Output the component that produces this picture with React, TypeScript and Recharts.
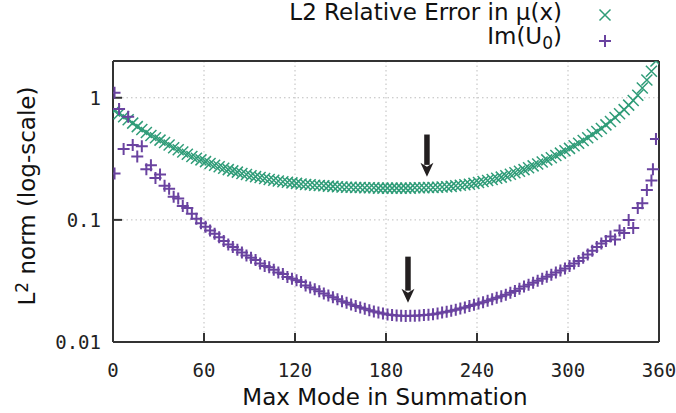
import React from "react"
import { ScatterChart, Scatter, XAxis, YAxis, CartesianGrid, ReferenceLine } from "recharts"

// mode numbers shared by both series
const modes = [
  1, 4, 7, 10, 13, 16, 19, 22, 25, 28, 31, 34, 37, 40, 43, 46, 49, 52, 55, 58,
  61, 64, 67, 70, 73, 76, 79, 82, 85, 88, 91, 94, 97, 100, 103, 106, 109, 112, 115, 118,
  121, 124, 127, 130, 133, 136, 139, 142, 145, 148, 151, 154, 157, 160, 163, 166, 169, 172, 175, 178,
  181, 184, 187, 190, 193, 196, 199, 202, 205, 208, 211, 214, 217, 220, 223, 226, 229, 232, 235, 238,
  241, 244, 247, 250, 253, 256, 259, 262, 265, 268, 271, 274, 277, 280, 283, 286, 289, 292, 295, 298,
  301, 304, 307, 310, 313, 316, 319, 322, 325, 328, 331, 334, 337, 340, 343, 346, 349, 352, 355, 358,
]

// L2 relative error in mu(x)
const muError = [
  0.78, 0.74, 0.7, 0.66, 0.62, 0.58, 0.55, 0.52, 0.49, 0.47, 0.45, 0.43, 0.41, 0.39, 0.375, 0.36, 0.345, 0.33, 0.32, 0.31,
  0.3, 0.29, 0.28, 0.272, 0.265, 0.258, 0.252, 0.246, 0.24, 0.235, 0.23, 0.226, 0.222, 0.218, 0.214, 0.211, 0.208, 0.205, 0.203, 0.201,
  0.199, 0.197, 0.195, 0.194, 0.192, 0.191, 0.19, 0.189, 0.188, 0.187, 0.186, 0.185, 0.185, 0.184, 0.184, 0.183, 0.183, 0.183, 0.182, 0.182,
  0.182, 0.182, 0.182, 0.182, 0.182, 0.182, 0.183, 0.183, 0.183, 0.184, 0.184, 0.185, 0.186, 0.187, 0.188, 0.19, 0.192, 0.194, 0.196, 0.199,
  0.202, 0.206, 0.21, 0.214, 0.219, 0.224, 0.23, 0.236, 0.243, 0.25, 0.258, 0.267, 0.277, 0.287, 0.298, 0.31, 0.323, 0.337, 0.352, 0.368,
  0.385, 0.404, 0.424, 0.446, 0.47, 0.5, 0.53, 0.56, 0.6, 0.64, 0.69, 0.74, 0.8, 0.87, 0.95, 1.05, 1.2, 1.4, 1.65, 2.0,
]

// Im(U_0)
const imU0 = [
  1.1, 0.81, 0.38, 0.7, 0.41, 0.33, 0.4, 0.26, 0.28, 0.22, 0.235, 0.19, 0.18, 0.155, 0.15, 0.13, 0.125, 0.112, 0.102, 0.094,
  0.088, 0.082, 0.077, 0.072, 0.067, 0.063, 0.06, 0.057, 0.054, 0.051, 0.049, 0.047, 0.044, 0.042, 0.041, 0.039, 0.037, 0.036, 0.034, 0.033,
  0.032, 0.031, 0.029, 0.028, 0.027, 0.026, 0.025, 0.024, 0.0232, 0.0224, 0.0216, 0.021, 0.0203, 0.0197, 0.0192, 0.0187, 0.0182, 0.0178, 0.0174, 0.0171,
  0.0168, 0.0166, 0.0165, 0.0164, 0.0163, 0.0164, 0.0164, 0.0165, 0.0166, 0.0167, 0.0169, 0.0171, 0.0174, 0.0177, 0.018, 0.0184, 0.0188, 0.0192, 0.0197, 0.0202,
  0.0207, 0.0212, 0.0218, 0.0224, 0.023, 0.0237, 0.0244, 0.0253, 0.0262, 0.0273, 0.0285, 0.0295, 0.0306, 0.0318, 0.033, 0.0343, 0.0356, 0.037, 0.0385, 0.04,
  0.042, 0.044, 0.046, 0.049, 0.052, 0.056, 0.06, 0.064, 0.067, 0.073, 0.069, 0.082, 0.078, 0.1, 0.086, 0.125, 0.137, 0.176, 0.21, 0.46,
]
const imU0ExtraModes = [1, 356]
const imU0Extra = [0.24, 0.26]

const xTicks = [0, 60, 120, 180, 240, 300, 360]
const yMajor = [0.01, 0.1, 1]
const yMinor = [0.02, 0.03, 0.04, 0.05, 0.06, 0.07, 0.08, 0.09, 0.2, 0.3, 0.4, 0.5, 0.6, 0.7, 0.8, 0.9, 2]

// arrows marking the minima: mode, tail value, tip value
const arrowModes = [207, 194.5]
const arrowTails = [0.5, 0.05]
const arrowTips = [0.225, 0.021]

const GREEN = "#2f9c78"
const PURPLE = "#6a43a0"
const AXIS = "#333"

const muData = modes.map((m, i) => ({ m, v: muError[i] }))
const imData = [
  ...imU0ExtraModes.map((m, i) => ({ m, v: imU0Extra[i] })),
  ...modes.map((m, i) => ({ m, v: imU0[i] })),
]

const Cross = (props: any) => {
  const { cx, cy } = props
  const r = 5.5
  return (
    <path
      d={`M${cx - r},${cy - r}L${cx + r},${cy + r}M${cx - r},${cy + r}L${cx + r},${cy - r}`}
      stroke={GREEN}
      strokeWidth={1.5}
      fill="none"
    />
  )
}

const Plus = (props: any) => {
  const { cx, cy } = props
  const r = 6
  return (
    <path
      d={`M${cx - r},${cy}L${cx + r},${cy}M${cx},${cy - r}L${cx},${cy + r}`}
      stroke={PURPLE}
      strokeWidth={2}
      fill="none"
    />
  )
}

const Arrow = (props: any) => {
  const { x1, y1, x2, y2 } = props
  const top = Math.min(y1, y2)
  const tip = Math.max(y1, y2)
  const x = x1
  const head = 14
  const hw = 6.5
  return (
    <g>
      <line x1={x} y1={top} x2={x} y2={tip - head + 2} stroke="#231f20" strokeWidth={5.5} />
      <path d={`M${x - hw},${tip - head}L${x},${tip - head + 4}L${x + hw},${tip - head}L${x},${tip}Z`} fill="#231f20" />
    </g>
  )
}

const tickFont = { fontFamily: "'DejaVu Sans Mono', monospace", fontSize: 19, fill: "#222" }
const textFont = "'DejaVu Sans', sans-serif"

export default function App() {
  return (
    <div style={{ position: "absolute", left: 0, top: 0, width: 676, height: 413, background: "#fff" }}>
      <ScatterChart width={676} height={413} margin={{ top: 60, right: 15, bottom: 70, left: 111 }}>
        <CartesianGrid stroke="#bdbdbd" strokeDasharray="1.5 3" />
        <XAxis
          dataKey="m"
          type="number"
          domain={[0, 360]}
          ticks={xTicks}
          interval={0}
          allowDataOverflow
          height={1}
          tickSize={-9}
          tickMargin={31}
          tick={tickFont}
          axisLine={{ stroke: AXIS, strokeWidth: 2 }}
          tickLine={{ stroke: AXIS, strokeWidth: 2 }}
        />
        <XAxis
          xAxisId="top"
          orientation="top"
          type="number"
          domain={[0, 360]}
          ticks={xTicks}
          interval={0}
          allowDataOverflow
          height={1}
          tickSize={-9}
          tick={false}
          axisLine={{ stroke: AXIS, strokeWidth: 2 }}
          tickLine={{ stroke: AXIS, strokeWidth: 2 }}
        />
        <YAxis
          dataKey="v"
          type="number"
          scale="log"
          domain={[0.01, 2]}
          ticks={yMajor}
          interval={0}
          allowDataOverflow
          width={1}
          tickSize={-9}
          tickMargin={21}
          tick={tickFont}
          tickFormatter={(v: number) => String(v)}
          axisLine={{ stroke: AXIS, strokeWidth: 2 }}
          tickLine={{ stroke: AXIS, strokeWidth: 2 }}
        />
        <YAxis
          yAxisId="leftMinor"
          type="number"
          scale="log"
          domain={[0.01, 2]}
          ticks={yMinor}
          interval={0}
          allowDataOverflow
          width={1}
          tickSize={-6}
          tick={false}
          axisLine={false}
          tickLine={{ stroke: AXIS, strokeWidth: 1.5 }}
        />
        <YAxis
          yAxisId="right"
          orientation="right"
          type="number"
          scale="log"
          domain={[0.01, 2]}
          ticks={yMajor}
          interval={0}
          allowDataOverflow
          width={1}
          tickSize={-9}
          tick={false}
          axisLine={{ stroke: AXIS, strokeWidth: 2 }}
          tickLine={{ stroke: AXIS, strokeWidth: 2 }}
        />
        <YAxis
          yAxisId="rightMinor"
          orientation="right"
          type="number"
          scale="log"
          domain={[0.01, 2]}
          ticks={yMinor}
          interval={0}
          allowDataOverflow
          width={1}
          tickSize={-6}
          tick={false}
          axisLine={false}
          tickLine={{ stroke: AXIS, strokeWidth: 1.5 }}
        />
        <Scatter name="L2 Relative Error in μ(x)" data={muData} shape={Cross} isAnimationActive={false} />
        <Scatter name="Im(U0)" data={imData} shape={Plus} isAnimationActive={false} />
        {arrowModes.map((m, i) => (
          <ReferenceLine
            key={i}
            segment={[{ x: m, y: arrowTails[i] }, { x: m, y: arrowTips[i] }]}
            shape={Arrow}
          />
        ))}
      </ScatterChart>

      {/* key, top right */}
      <div style={{ position: "absolute", right: 114, top: 0, fontFamily: textFont, fontSize: 23, lineHeight: "24px", color: "#111", textAlign: "right", whiteSpace: "nowrap" }}>
        <div>L2 Relative Error in μ(x)</div>
        <div>Im(U<sub style={{ fontSize: 17, verticalAlign: "-5px", lineHeight: 0 }}>0</sub>)</div>
      </div>
      <svg style={{ position: "absolute", left: 595, top: 0 }} width={20} height={50}>
        <Cross cx={10} cy={15} />
        <Plus cx={10} cy={41} />
      </svg>

      {/* axis titles */}
      <div style={{ position: "absolute", left: 27, top: 196, transform: "translate(-50%, -50%) rotate(-90deg)", fontFamily: textFont, fontSize: 23, color: "#111", whiteSpace: "nowrap" }}>
        L<sup style={{ fontSize: 17, verticalAlign: "7px", lineHeight: 0 }}>2</sup> norm (log-scale)
      </div>
      <div style={{ position: "absolute", left: 385, top: 386, transform: "translateX(-50%)", fontFamily: textFont, fontSize: 23, lineHeight: "23px", color: "#111", whiteSpace: "nowrap" }}>
        Max Mode in Summation
      </div>
    </div>
  )
}
